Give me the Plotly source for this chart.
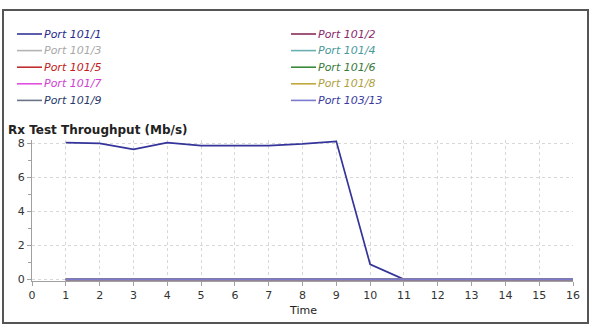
import plotly.graph_objects as go

time = list(range(1, 17))
port_names = ["Port 101/1", "Port 101/2", "Port 101/3", "Port 101/4", "Port 101/5",
              "Port 101/6", "Port 101/7", "Port 101/8", "Port 101/9", "Port 103/13"]
line_colors = ["#34349a", "#8a2a5a", "#b4b4b4", "#6ab0b0", "#c03030",
               "#3a8a3a", "#e050e0", "#c0a840", "#6a7488", "#7a7ad0"]
text_colors = ["#2a2a8e", "#8a2a6a", "#a8a8a8", "#4a9a9a", "#c02020",
               "#3a7a3a", "#d040d0", "#b0a040", "#2a3a6a", "#3a3aa0"]

port101_1 = [8.05, 8.0, 7.65, 8.05, 7.87, 7.87, 7.87, 7.97, 8.12, 0.88, 0, 0, 0, 0, 0, 0]
zero_series = [0] * 16
series = [port101_1] + [zero_series] * 9

y_ticks = [0, 2, 4, 6, 8]
x_ticks = list(range(0, 17))

# plot geometry (pixels)
W, H = 591, 333
ML, MR, MT, MB = 32, 18, 140, 52
PW, PH = W - ML - MR, H - MT - MB


def px(x):
    return (x - ML) / PW


def py(y):
    return (H - MB - y) / PH


fig = go.Figure()
for name, lc, ys in zip(port_names, line_colors, series):
    fig.add_trace(go.Scatter(
        x=time, y=ys, mode="lines", name=name,
        line=dict(color=lc, width=1.7), showlegend=False,
    ))

# two-column legend drawn in the layout
annotations = []
shapes = []
col_x = [17, 291]
for i, (name, lc, tc) in enumerate(zip(port_names, line_colors, text_colors)):
    col, row = i % 2, i // 2
    yy = 34 + row * 16.6
    x0 = col_x[col]
    shapes.append(dict(type="line", xref="paper", yref="paper",
                       x0=px(x0), x1=px(x0 + 25), y0=py(yy), y1=py(yy),
                       line=dict(color=lc, width=1.6)))
    annotations.append(dict(text=name, xref="paper", yref="paper",
                            x=px(x0 + 25), y=py(yy), xanchor="left", yanchor="middle",
                            showarrow=False,
                            font=dict(family="DejaVu Sans", size=11, style="italic", color=tc)))

annotations += [
    dict(text="<b>Rx Test Throughput (Mb/s)</b>", xref="paper", yref="paper",
         x=px(6), y=py(130), xanchor="left", yanchor="middle", showarrow=False,
         font=dict(family="DejaVu Sans", size=12, color="#222222")),
    dict(text="Time", xref="paper", yref="paper",
         x=px(303), y=py(310), xanchor="center", yanchor="middle", showarrow=False,
         font=dict(family="DejaVu Sans", size=11, color="#222222")),
]
shapes.append(dict(type="rect", xref="paper", yref="paper",
                   x0=px(3), x1=px(588), y0=py(323), y1=py(10),
                   line=dict(color="#555555", width=2), fillcolor="rgba(0,0,0,0)", layer="below"))

fig.update_layout(
    width=W, height=H,
    margin=dict(l=ML, r=MR, t=MT, b=MB),
    paper_bgcolor="white", plot_bgcolor="white",
    font=dict(family="DejaVu Sans", size=11, color="#333333"),
    showlegend=False,
    xaxis=dict(
        range=[0, 16], tickvals=x_ticks, ticktext=[str(v) for v in x_ticks],
        showgrid=True, gridcolor="#d8d8d8", griddash="dot", gridwidth=1,
        showline=True, linecolor="#a0a0a0", linewidth=1,
        ticks="outside", ticklen=4, tickcolor="#a0a0a0",
        zeroline=False, tickfont=dict(size=11, color="#333333"),
    ),
    yaxis=dict(
        range=[-0.1, 8.2], tickvals=y_ticks, ticktext=[str(v) for v in y_ticks],
        showgrid=True, gridcolor="#d8d8d8", griddash="dot", gridwidth=1,
        showline=True, linecolor="#a0a0a0", linewidth=1,
        ticks="outside", ticklen=4, tickcolor="#a0a0a0",
        minor=dict(dtick=1, ticks="outside", ticklen=3, tickcolor="#a0a0a0", showgrid=False),
        zeroline=False, tickfont=dict(size=11, color="#333333"),
    ),
    annotations=annotations,
    shapes=shapes,
)

fig.write_html("out.html")
